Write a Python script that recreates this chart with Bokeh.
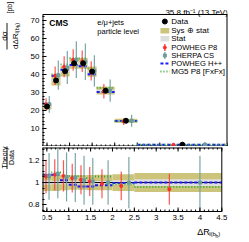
import numpy as np
from bokeh.plotting import figure
from bokeh.layouts import column, row
from bokeh.models import Range1d, FixedTicker, PrintfTickFormatter
from bokeh.core.properties import value
from bokeh.embed import file_html
from bokeh.resources import INLINE

FONT = "Liberation Sans"

# ---------------- data ----------------
bin_edges = [0.4, 0.6, 0.8, 1.0, 1.2, 1.4, 1.6, 2.0, 2.5, 4.5]
data_xsec = [22.2, 36.7, 41.8, 46.2, 46.2, 41.6, 31.0, 14.3, 1.0]
rel_total = [0.075, 0.075, 0.07, 0.065, 0.065, 0.068, 0.07, 0.075, 0.085]
rel_stat = [0.02, 0.015, 0.015, 0.015, 0.015, 0.015, 0.015, 0.02, 0.03]
powheg_p8_ratio = [1.055, 1.07, 1.06, 1.04, 1.025, 1.01, 0.99, 0.97, 0.94]
powheg_p8_err = [0.15, 0.14, 0.14, 0.13, 0.13, 0.13, 0.13, 0.13, 0.14]
sherpa_ratio = [1.055, 1.08, 1.05, 1.045, 1.02, 1.01, 1.0, 1.0, 1.0]
sherpa_err = [0.21, 0.22, 0.22, 0.22, 0.22, 0.21, 0.2, 0.23, 0.24]
powheg_hpp_ratio = [1.07, 1.07, 1.02, 0.98, 0.965, 0.965, 0.975, 0.995, 1.0]
mg5_ratio = [1.07, 1.09, 1.09, 1.06, 1.06, 1.04, 1.055, 0.985, 0.96]

x_ticks = [0.5, 1.0, 1.5, 2.0, 2.5, 3.0, 3.5, 4.0, 4.5]
x_tick_labels = ["0.5", "1", "1.5", "2", "2.5", "3", "3.5", "4", "4.5"]
top_y_ticks = [10, 20, 30, 40, 50, 60, 70]
ratio_y_ticks = [0.8, 1.0, 1.2]

legend_labels = ["Data", "Sys \u2295 stat", "Stat", "POWHEG P8", "SHERPA CS",
                 "POWHEG H++", "MG5 P8 [FxFx]"]

# ---------------- styling ----------------
BAND = "#cdc47b"
STATC = "#dedede"
RED = "#ff2a2a"
TEAL = "#6a9c9c"
BLUE = "#1a1aff"
GREEN = "#33aa33"

# ---------------- derived arrays ----------------
edges = np.array(bin_edges)
lo, hi = edges[:-1], edges[1:]
ctr = 0.5 * (lo + hi)
wid = hi - lo
x_red = ctr - 0.1 * wid
x_teal = ctr + 0.25 * wid
dat = np.array(data_xsec)
rt = np.array(rel_total)
rs = np.array(rel_stat)
p8 = np.array(powheg_p8_ratio)
p8e = np.array(powheg_p8_err)
sh = np.array(sherpa_ratio)
she = np.array(sherpa_err)
hpp = np.array(powheg_hpp_ratio)
mg5 = np.array(mg5_ratio)

# ---------------- geometry (picture pixels) ----------------
LW = 25                  # left title strip: x 8..33
CW = 208                 # main column: x 33..241
BL, BR = 13, 6           # plot box x 46..235
FX0, FX1 = 46.0, 235.0
X0, X1 = 0.4, 4.5
px_x = (X1 - X0) / (FX1 - FX0)
H1 = 146                 # upper figure: y 0..146 (box 14..146)
FYT1, FYB1 = 14.0, 146.0
H2 = 94                  # ratio figure: y 146..240 (box 147..211)
FYT2, FYB2 = 147.0, 211.0
Y0 = 0.0
py_per = 1.0 / 1.8
YBOX = (FYB1 - FYT1) * py_per
Y1 = FYB1 * py_per
RBOX0, R1 = 0.74, 1.315
pr_per = (R1 - RBOX0) / (FYB2 - FYT2)
R0 = RBOX0 - (FYB1 + H2 - FYB2) * pr_per


def ux(px):
    return X0 + (px - FX0) * px_x


def uy(py):
    return Y0 + (FYB1 - py) * py_per


def ly(py):
    return RBOX0 + (FYB2 - py) * pr_per


def txt(p, xs, ys, texts, size="8px", **kw):
    p.text(x=xs, y=ys, text=texts, text_font=value(FONT),
           text_font_size=value(size), text_color="black", **kw)


def style_axis(ax):
    ax.axis_line_color = None
    ax.major_tick_in = 4
    ax.major_tick_out = 0
    ax.minor_tick_in = 2
    ax.minor_tick_out = 0
    ax.major_tick_line_color = "black"
    ax.minor_tick_line_color = "black"
    ax.major_label_text_font = FONT
    ax.major_label_text_font_size = "8px"
    ax.major_label_text_color = "black"
    ax.major_label_standoff = 3
    ax.axis_label_standoff = 0
    ax.formatter = PrintfTickFormatter(format="%g")


def base_fig(width, height, xr, yr, **kw):
    f = figure(width=width, height=height, x_range=xr, y_range=yr,
               output_backend="svg", toolbar_location=None, title=None, **kw)
    f.grid.visible = False
    f.outline_line_color = None
    f.background_fill_color = "white"
    f.border_fill_color = "white"
    return f


def frame_box(p, xa, xb, ya, yb, widths):
    p.segment(x0=[xa, xb, xa, xa], y0=[ya, ya, yb, ya], x1=[xa, xb, xb, xb],
              y1=[yb, yb, yb, ya], line_color="black", line_width=widths)


x_minor = np.round(np.arange(0.4, 4.51, 0.1), 2)
nmaj, nmin = len(x_ticks), len(x_minor)

# ================= upper panel =================
p1 = base_fig(CW, H1, Range1d(X0, X1), Range1d(Y0, Y1),
              min_border_left=BL, min_border_right=BR, min_border_top=0,
              min_border_bottom=0)
p1.xaxis.visible = False
p1.yaxis.ticker = FixedTicker(ticks=top_y_ticks, minor_ticks=list(range(0, 73, 2)))
style_axis(p1.yaxis[0])

frame_box(p1, X0, X1, Y0, YBOX, [2, 2, 1, 2])
p1.segment(x0=x_ticks, y0=[Y0] * nmaj, x1=x_ticks, y1=[Y0 + 4 * py_per] * nmaj,
           line_color="black", line_width=1)
p1.segment(x0=x_minor, y0=[Y0] * nmin, x1=x_minor, y1=[Y0 + 2 * py_per] * nmin,
           line_color="black", line_width=1)

p1.quad(left=lo, right=hi, bottom=dat * (1 - rt), top=dat * (1 + rt),
        fill_color=BAND, line_color=None)
p1.quad(left=lo, right=hi, bottom=dat * (1 - rs), top=dat * (1 + rs),
        fill_color=STATC, line_color=None)
p1.segment(x0=lo, y0=dat * hpp, x1=hi, y1=dat * hpp, line_color=BLUE,
           line_width=2, line_dash="3 2")
p1.segment(x0=lo, y0=dat * mg5, x1=hi, y1=dat * mg5, line_color=GREEN,
           line_width=2, line_dash="1 2")
p1.segment(x0=x_red, y0=dat * (p8 - p8e), x1=x_red, y1=dat * (p8 + p8e),
           line_color=RED, line_width=1.2, line_alpha=0.8)
p1.scatter(x_red, dat * p8, size=3, color=RED)
p1.segment(x0=x_teal, y0=dat * (sh - she), x1=x_teal, y1=dat * (sh + she),
           line_color=TEAL, line_width=1.2, line_alpha=0.9)
p1.scatter(x_teal, dat * sh, size=3, color=TEAL, marker="square")
p1.segment(x0=ctr, y0=dat * (1 - rs), x1=ctr, y1=dat * (1 + rs),
           line_color="black", line_width=1)
p1.scatter(ctr, dat, size=5, color="black")

# texts in the upper panel
txt(p1, [ux(235.5)], [uy(11.8)], ["35.8 fb\u207b\u00b9 (13 TeV)"], "8px",
    text_align="right", text_baseline="alphabetic")
txt(p1, [ux(53)], [uy(22)], ["CMS"], "8.5px", text_font_style="bold",
    text_baseline="middle")
txt(p1, [ux(102), ux(102)], [uy(22), uy(31)], ["e/\u03bc+jets", "particle level"],
    "7.5px", text_baseline="middle")

# legend
leg_y = [21, 30, 38, 47, 55, 63, 71]
for t, yy in zip(legend_labels, leg_y):
    txt(p1, [ux(177.5)], [uy(yy)], [t],
        "7.6px" if ("HEG" in t or "HERPA" in t) else "8px", text_baseline="middle")
gx = ux(171)
p1.scatter([gx], [uy(21)], size=5, color="black")
p1.quad(left=[ux(166.5)], right=[ux(175.5)], top=[uy(27.5)], bottom=[uy(33)],
        fill_color=BAND, line_color=None)
p1.quad(left=[ux(166.5)], right=[ux(175.5)], top=[uy(35.5)], bottom=[uy(41)],
        fill_color=STATC, line_color=None)
p1.segment(x0=[gx], y0=[uy(43.5)], x1=[gx], y1=[uy(50.5)], line_color=RED, line_width=1.2)
p1.scatter([gx], [uy(47)], size=3, color=RED)
p1.segment(x0=[gx], y0=[uy(51.5)], x1=[gx], y1=[uy(58.5)], line_color=TEAL, line_width=1.2)
p1.scatter([gx], [uy(55)], size=3, color=TEAL, marker="square")
p1.segment(x0=[ux(166.5)], y0=[uy(63)], x1=[ux(176)], y1=[uy(63)],
           line_color=BLUE, line_width=2, line_dash="3 2")
p1.segment(x0=[ux(166.5)], y0=[uy(71)], x1=[ux(176)], y1=[uy(71)],
           line_color=GREEN, line_width=2, line_dash="1 2")

# ================= ratio panel =================
p2 = base_fig(CW, H2, Range1d(X0, X1 + BR * px_x), Range1d(R0, R1),
              min_border_left=BL, min_border_right=0, min_border_top=1,
              min_border_bottom=0)
p2.xaxis.visible = False
p2.yaxis.ticker = FixedTicker(ticks=ratio_y_ticks,
                              minor_ticks=list(np.round(np.arange(0.75, 1.31, 0.05), 2)))
style_axis(p2.yaxis[0])

p2.quad(left=lo, right=hi, bottom=1 - rt, top=1 + rt, fill_color=BAND, line_color=None)
p2.quad(left=lo, right=hi, bottom=1 - rs, top=1 + rs, fill_color=STATC, line_color=None)
p2.segment(x0=[X0], y0=[1.0], x1=[X1], y1=[1.0], line_color="black", line_width=1)
p2.segment(x0=lo, y0=hpp, x1=hi, y1=hpp, line_color=BLUE, line_width=2, line_dash="3 2")
p2.segment(x0=lo, y0=mg5, x1=hi, y1=mg5, line_color=GREEN, line_width=2, line_dash="1 2")
p2.segment(x0=x_red, y0=p8 - p8e, x1=x_red, y1=p8 + p8e, line_color=RED,
           line_width=1.2, line_alpha=0.8)
p2.scatter(x_red, p8, size=3, color=RED)
p2.segment(x0=x_teal, y0=sh - she, x1=x_teal, y1=sh + she, line_color=TEAL,
           line_width=1.2, line_alpha=0.9)
p2.scatter(x_teal, sh, size=3, color=TEAL, marker="square")

# frame, ticks and tick labels of the ratio panel
frame_box(p2, X0, X1, RBOX0, R1, [2, 1, 2, 1])
p2.segment(x0=x_ticks, y0=[R1] * nmaj, x1=x_ticks, y1=[R1 - 4 * pr_per] * nmaj,
           line_color="black", line_width=1)
p2.segment(x0=x_minor, y0=[R1] * nmin, x1=x_minor, y1=[R1 - 2 * pr_per] * nmin,
           line_color="black", line_width=1)
p2.segment(x0=x_ticks, y0=[RBOX0] * nmaj, x1=x_ticks, y1=[RBOX0 + 4 * pr_per] * nmaj,
           line_color="black", line_width=1)
p2.segment(x0=x_minor, y0=[RBOX0] * nmin, x1=x_minor, y1=[RBOX0 + 2 * pr_per] * nmin,
           line_color="black", line_width=1)
txt(p2, x_ticks, [ly(214)] * nmaj, x_tick_labels, "8px", text_align="center",
    text_baseline="top")

# x-axis title
txt(p2, [ux(209)], [ly(231.5)], ["\u0394R"], "9px", text_baseline="alphabetic")
txt(p2, [ux(221.7)], [ly(233.5)], ["l(b"], "6px", text_baseline="alphabetic")
txt(p2, [ux(228.4)], [ly(235)], ["h"], "5px", text_baseline="alphabetic")
txt(p2, [ux(231.2)], [ly(233.5)], [")"], "6px", text_baseline="alphabetic")

# ================= left strip: y-axis titles (picture-pixel coordinates) =================
ang = np.pi / 2
left = base_fig(LW, H1 + H2, Range1d(8, 8 + LW), Range1d(H1 + H2, 0),
                min_border=0, min_border_left=0, min_border_right=0,
                min_border_top=0, min_border_bottom=0)
left.axis.visible = False
txt(left, [11.5], [35.5], ["d\u03c3"], "8px", angle=ang, text_align="center",
    text_baseline="middle")
left.segment(x0=[14.5], y0=[49], x1=[14.5], y1=[22.5], line_color="black", line_width=0.9)
txt(left, [22.5], [48.5], ["d\u0394R"], "8px", angle=ang, text_align="left",
    text_baseline="alphabetic")
txt(left, [24.5], [32.9], ["l(b"], "5.5px", angle=ang, text_align="left",
    text_baseline="alphabetic")
txt(left, [26], [26.8], ["h"], "4.5px", angle=ang, text_align="left",
    text_baseline="alphabetic")
txt(left, [24.5], [24.3], [")"], "5.5px", angle=ang, text_align="left",
    text_baseline="alphabetic")
txt(left, [17], [13], ["[pb]"], "7px", angle=ang, text_align="left",
    text_baseline="alphabetic")
txt(left, [11.5], [157], ["Theory"], "7px", angle=ang, text_align="center",
    text_baseline="middle")
left.segment(x0=[14.5], y0=[168.5], x1=[14.5], y1=[146], line_color="black", line_width=0.9)
txt(left, [19], [157], ["Data"], "7px", angle=ang, text_align="center",
    text_baseline="middle")

layout = row(left, column(p1, p2, spacing=0), spacing=0)
open("out.html", "w").write(file_html(layout, INLINE))
